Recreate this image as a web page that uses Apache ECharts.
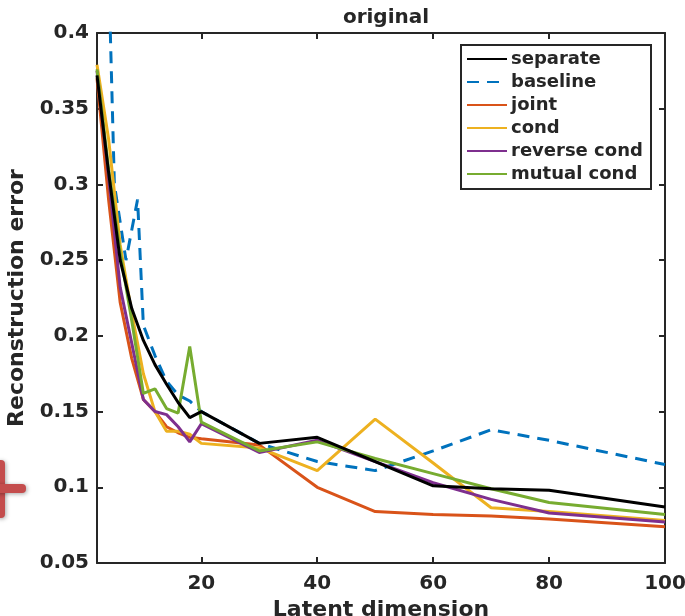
<!DOCTYPE html>
<html>
<head>
<meta charset="utf-8">
<script src="https://cdn.jsdelivr.net/npm/echarts@6/dist/echarts.min.js"></script>
<style>
  html, body { margin: 0; padding: 0; background: #fff; }
  #chart { width: 685px; height: 616px; }
</style>
</head>
<body>
<div id="chart"></div>
<script>
// Latent dimensions used for every model except the baseline
const dims = [2, 4, 6, 8, 10, 12, 14, 16, 18, 20, 30, 40, 50, 60, 70, 80, 100];
const separate = [0.372, 0.308, 0.250, 0.218, 0.197, 0.181, 0.168, 0.156, 0.146, 0.150, 0.129, 0.133, 0.117, 0.101, 0.099, 0.098, 0.087];
const joint = [0.370, 0.290, 0.222, 0.185, 0.158, 0.150, 0.140, 0.136, 0.133, 0.132, 0.128, 0.100, 0.084, 0.082, 0.081, 0.079, 0.074];
const cond = [0.379, 0.330, 0.260, 0.215, 0.175, 0.150, 0.137, 0.137, 0.135, 0.129, 0.126, 0.111, 0.145, 0.116, 0.0865, 0.084, 0.078];
const reverseCond = [0.375, 0.305, 0.232, 0.195, 0.158, 0.150, 0.148, 0.140, 0.130, 0.142, 0.123, 0.131, 0.117, 0.103, 0.092, 0.083, 0.077];
const mutualCond = [0.376, 0.310, 0.255, 0.210, 0.162, 0.165, 0.152, 0.149, 0.193, 0.143, 0.124, 0.130, 0.119, 0.109, 0.099, 0.090, 0.082];

// Baseline was evaluated on its own set of dimensions
const baselineDims = [3, 5, 7, 9, 10, 12, 14, 16, 18, 20, 30, 40, 50, 60, 70, 80, 100];
const baseline = [0.586, 0.300, 0.250, 0.290, 0.207, 0.187, 0.170, 0.161, 0.157, 0.150, 0.129, 0.117, 0.111, 0.124, 0.138, 0.131, 0.115];

const xTicks = [20, 40, 60, 80, 100];
const seriesNames = ['separate', 'baseline', 'joint', 'cond', 'reverse cond', 'mutual cond'];
const seriesColors = ['#000000', '#0072BD', '#D95319', '#EDB120', '#7E2F8E', '#77AC30'];

const zip = (xs, ys) => xs.map((x, i) => [x, ys[i]]);
const seriesData = [
  zip(dims, separate),
  zip(baselineDims, baseline),
  zip(dims, joint),
  zip(dims, cond),
  zip(dims, reverseCond),
  zip(dims, mutualCond)
];

const FONT = 'DejaVu Sans';
const AX = '#262626';

const chart = echarts.init(document.getElementById('chart'), null, { renderer: 'canvas' });

const axisCommon = {
  axisLine: { show: true, onZero: false, lineStyle: { color: AX, width: 2 } },
  axisTick: { show: true, inside: true, length: 6, lineStyle: { color: AX, width: 2 } },
  splitLine: { show: false }
};

chart.setOption({
  animation: false,
  backgroundColor: '#fff',
  title: {
    text: 'original',
    left: 381,
    textAlign: 'center',
    top: 3,
    textStyle: { fontFamily: FONT, fontWeight: 'bold', fontSize: 20, color: AX }
  },
  grid: { left: 97, right: 20, top: 33, bottom: 53, containLabel: false, outerBoundsMode: 'none' },
  legend: {
    data: seriesNames,
    orient: 'vertical',
    left: 461,
    top: 45,
    itemWidth: 40,
    itemHeight: 14,
    itemGap: 5,
    itemStyle: { opacity: 0 },
    textStyle: { fontFamily: FONT, fontWeight: 'bold', fontSize: 18, lineHeight: 18, color: AX, padding: [0, 0, 0, -1] }
  },
  xAxis: [
    Object.assign({}, axisCommon, {
      type: 'value', min: 2, max: 100, position: 'bottom',
      axisTick: Object.assign({}, axisCommon.axisTick, { customValues: xTicks }),
      axisLabel: { customValues: xTicks, margin: 11, fontFamily: FONT, fontWeight: 'bold', fontSize: 20, color: AX },
      name: 'Latent dimension', nameLocation: 'middle', nameGap: 34,
      nameTextStyle: { fontFamily: FONT, fontWeight: 'bold', fontSize: 22, color: AX }
    }),
    Object.assign({}, axisCommon, {
      type: 'value', min: 2, max: 100, position: 'top',
      axisTick: Object.assign({}, axisCommon.axisTick, { customValues: xTicks }),
      axisLabel: { show: false }
    })
  ],
  yAxis: [
    Object.assign({}, axisCommon, {
      type: 'value', min: 0.05, max: 0.4, interval: 0.05, position: 'left',
      axisLabel: { margin: 8, fontFamily: FONT, fontWeight: 'bold', fontSize: 20, color: AX },
      name: 'Reconstruction error', nameLocation: 'middle', nameGap: 64,
      nameTextStyle: { fontFamily: FONT, fontWeight: 'bold', fontSize: 22, color: AX }
    }),
    Object.assign({}, axisCommon, {
      type: 'value', min: 0.05, max: 0.4, interval: 0.05, position: 'right',
      axisLabel: { show: false }
    })
  ],
  series: seriesNames.map((name, i) => ({
    name: name,
    type: 'line',
    data: seriesData[i],
    symbol: 'none',
    clip: true,
    color: seriesColors[i],
    lineStyle: {
      color: seriesColors[i],
      width: 3,
      type: name === 'baseline' ? [12, 8] : 'solid'
    },
    z: name === 'separate' ? 3 : 2
  })),
  graphic: [
    {
      type: 'rect',
      shape: { x: 461, y: 45, width: 190, height: 144 },
      style: { fill: 'none', stroke: AX, lineWidth: 2 },
      z: 100
    },
    // red cross at the left margin
    {
      type: 'rect',
      shape: { x: -4, y: 460, width: 9, height: 58, r: 4 },
      style: { fill: '#c44d4d', shadowBlur: 4, shadowColor: 'rgba(0,0,0,0.35)', shadowOffsetX: 1, shadowOffsetY: 1 },
      z: 100
    },
    {
      type: 'rect',
      shape: { x: -10, y: 484, width: 36, height: 9, r: 4 },
      style: { fill: '#c44d4d', shadowBlur: 4, shadowColor: 'rgba(0,0,0,0.35)', shadowOffsetX: 1, shadowOffsetY: 1 },
      z: 100
    }
  ]
});
</script>
</body>
</html>
